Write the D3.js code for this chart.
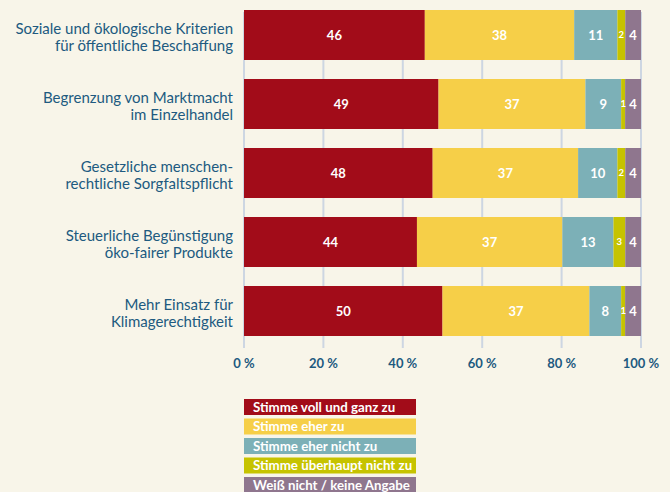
<!DOCTYPE html>
<html>
<head>
<meta charset="utf-8">
<script src="https://cdn.jsdelivr.net/npm/d3@7"></script>
<style>
  body { margin: 0; background: #f8f5e9; }
  svg { display: block; font-family: "Lato", "Open Sans", sans-serif; }
</style>
</head>
<body>
<div id="chart"></div>
<script>
// data
var categories = [
  ["Soziale und ökologische Kriterien", "für öffentliche Beschaffung"],
  ["Begrenzung von Marktmacht", "im Einzelhandel"],
  ["Gesetzliche menschen-", "rechtliche Sorgfaltspflicht"],
  ["Steuerliche Begünstigung", "öko-fairer Produkte"],
  ["Mehr Einsatz für", "Klimagerechtigkeit"]
];
var series = ["Stimme voll und ganz zu", "Stimme eher zu", "Stimme eher nicht zu",
  "Stimme überhaupt nicht zu", "Weiß nicht / keine Angabe"];
var vollGanz   = [46, 49, 48, 44, 50];
var eher       = [38, 37, 37, 37, 37];
var eherNicht  = [11, 9, 10, 13, 8];
var garNicht   = [2, 1, 2, 3, 1];
var weissNicht = [4, 4, 4, 4, 4];
var ticks = [0, 20, 40, 60, 80, 100];

var colors = ["#a20c19", "#f6cf48", "#7cb0b7", "#c6c300", "#8f768e"];
var values = [vollGanz, eher, eherNicht, garNicht, weissNicht];

var W = 670, H = 492;
var svg = d3.select("#chart").append("svg")
  .attr("width", W).attr("height", H);

svg.append("rect").attr("width", W).attr("height", H).attr("fill", "#f8f5e9");

var x = d3.scaleLinear().domain([0, 100]).range([244, 641]);
var y = d3.scaleBand()
  .domain(d3.range(categories.length))
  .range([10, 336])
  .paddingInner(19 / 69)
  .paddingOuter(0);

// gridlines
svg.selectAll(".grid")
  .data(ticks)
  .enter().append("line")
  .attr("x1", d => x(d)).attr("x2", d => x(d))
  .attr("y1", 12).attr("y2", 348)
  .attr("stroke", "#cdd6e2")
  .attr("stroke-width", 2);

// stacked, normalized rows
var rows = categories.map(function(c, i) {
  var total = d3.sum(values, v => v[i]);
  var acc = 0;
  return values.map(function(v, k) {
    var seg = {row: i, k: k, v: v[i], x0: acc / total * 100, x1: (acc + v[i]) / total * 100};
    acc += v[i];
    return seg;
  });
});
var segs = rows.flat();

svg.selectAll(".seg")
  .data(segs)
  .enter().append("rect")
  .attr("x", d => x(d.x0))
  .attr("width", d => x(d.x1) - x(d.x0))
  .attr("y", d => y(d.row))
  .attr("height", y.bandwidth())
  .attr("fill", d => colors[d.k]);

svg.selectAll(".val")
  .data(segs)
  .enter().append("text")
  .attr("x", d => (x(d.x0) + x(d.x1)) / 2)
  .attr("y", d => y(d.row) + y.bandwidth() / 2)
  .attr("dy", "0.36em")
  .attr("text-anchor", "middle")
  .attr("fill", "#fff")
  .attr("font-weight", "bold")
  .attr("font-size", d => d.v < 4 ? "9.5px" : "13px")
  .text(d => d.v);

// category labels
categories.forEach(function(lines, i) {
  var t = svg.append("text")
    .attr("text-anchor", "end")
    .attr("fill", "#205a80")
    .attr("font-size", "15px");
  lines.forEach(function(l, j) {
    t.append("tspan")
      .attr("x", 233)
      .attr("y", y(i) + y.bandwidth() / 2 + (j === 0 ? -1 : 16))
      .text(l);
  });
});

// x axis labels
svg.selectAll(".tick")
  .data(ticks)
  .enter().append("text")
  .attr("x", d => x(d))
  .attr("y", 368)
  .attr("text-anchor", "middle")
  .attr("fill", "#1d5a80")
  .attr("font-weight", "bold")
  .attr("font-size", "13px")
  .text(d => d + " %");

// legend
var legend = svg.selectAll(".leg")
  .data(series)
  .enter().append("g")
  .attr("transform", (d, i) => "translate(244," + (399 + i * 19.5) + ")");
legend.append("rect")
  .attr("width", 172).attr("height", 16)
  .attr("fill", (d, i) => colors[i]);
legend.append("text")
  .attr("x", 9).attr("y", 12.8)
  .attr("fill", "#fff")
  .attr("font-weight", "bold")
  .attr("font-size", "13.3px")
  .text(d => d);
</script>
</body>
</html>
